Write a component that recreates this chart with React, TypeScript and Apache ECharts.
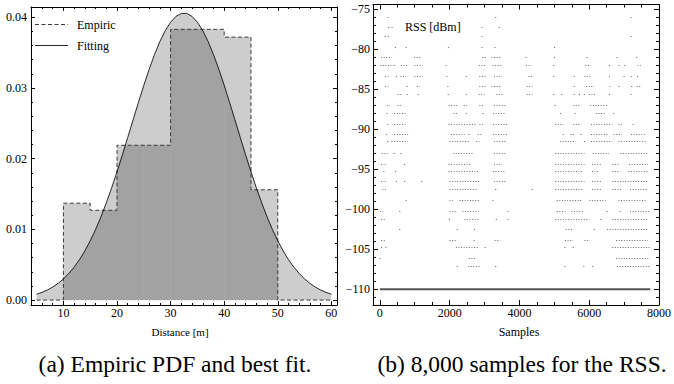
import React, { useEffect, useRef } from "react";
import * as echarts from "echarts";

// ---------- Left panel: empiric PDF (histogram) and fitted PDF ----------
const HIST_EDGES = [5, 10, 15, 20, 25, 30, 35, 40, 45, 50, 55, 60];
const HIST_PDF = [0, 0.0137, 0.0127, 0.0219, 0.0219, 0.0383, 0.0383, 0.0372, 0.0156, 0, 0];

const FIT_X = [
  5, 6, 7, 8, 9, 10, 11, 12, 13, 14, 15, 16, 17, 18, 19, 20, 21, 22, 23, 24, 25, 26, 27, 28,
  29, 30, 31, 32, 33, 34, 35, 36, 37, 38, 39, 40, 41, 42, 43, 44, 45, 46, 47, 48, 49, 50, 51,
  52, 53, 54, 55, 56, 57, 58, 59, 60,
];
const FIT_PDF = [
  0.00082, 0.00109, 0.00142, 0.00184, 0.00236, 0.00299, 0.00375, 0.00465, 0.00572, 0.00696,
  0.00837, 0.00998, 0.01177, 0.01374, 0.01587, 0.01814, 0.02053, 0.023, 0.0255, 0.02797,
  0.03038, 0.03265, 0.03474, 0.03658, 0.03812, 0.03931, 0.04013, 0.04055, 0.04055, 0.04013,
  0.03931, 0.03812, 0.03658, 0.03474, 0.03265, 0.03038, 0.02797, 0.0255, 0.023, 0.02053,
  0.01814, 0.01587, 0.01374, 0.01177, 0.00998, 0.00837, 0.00696, 0.00572, 0.00465, 0.00375,
  0.00299, 0.00236, 0.00184, 0.00142, 0.00109, 0.00082,
];

const DIST_TICKS = [10, 20, 30, 40, 50, 60];
const PDF_TICKS = [0, 0.01, 0.02, 0.03, 0.04];

// ---------- Right panel: RSS samples ----------
const SAMPLE_TICKS = [0, 2000, 4000, 6000, 8000];
const RSS_TICKS = [-110, -105, -100, -95, -90, -85, -80, -75];

const RSS_LEVELS = [
  -76.0, -77.2, -78.3, -79.7, -81.0, -82.0, -83.3, -84.6, -85.6, -87.0, -88.0, -89.3, -90.6,
  -91.5, -92.9, -94.3, -95.2, -96.5, -97.5, -98.8, -100.2, -101.2, -102.5, -103.8, -104.7,
  -106.1, -107.1,
];
// sample ranges (start, end) where readings at each level occur
const RSS_CLUSTERS: number[][][] = [
  [[240, 240], [3320, 3320], [7200, 7200]],
  [[250, 250], [350, 350], [2930, 2930], [3420, 3420]],
  [[150, 150], [243, 243], [2930, 2930], [7200, 7200]],
  [[448, 448], [755, 755], [1967, 1967], [2930, 2930], [3300, 3300], [5007, 5007]],
  [[36, 290], [980, 1175], [2930, 3040], [3200, 3460], [4187, 4187], [5007, 5007], [5930, 5930], [6800, 6800], [7360, 7360]],
  [[10, 335], [410, 410], [600, 785], [990, 1220], [1900, 1900], [2835, 3020], [3230, 3490], [4187, 4345], [4980, 4980], [5890, 6050], [6580, 6580], [6840, 6900], [7000, 7080], [7385, 7480]],
  [[150, 243], [475, 475], [590, 755], [990, 1220], [1920, 1920], [2480, 2480], [2850, 3040], [3270, 3505], [4260, 4370], [4980, 4980], [5570, 5570], [5860, 6050], [6565, 6640], [7000, 7000], [7200, 7200], [7385, 7385]],
  [[150, 243], [783, 783], [1063, 1155], [1950, 1950], [2850, 3040], [3200, 3500], [4205, 4370], [5570, 5570], [5910, 6145], [6580, 6640], [6860, 6860], [7215, 7215], [7360, 7480]],
  [[500, 615], [783, 783], [1100, 1100], [1960, 1960], [2480, 2480], [2830, 3000], [3340, 3550], [4205, 4370], [4980, 4980], [5210, 5210], [5570, 5570], [5720, 5720], [5860, 5860], [5990, 6190], [6580, 6580], [7200, 7200]],
  [[195, 290], [500, 600], [1967, 2245], [2405, 2500], [2853, 2990], [3270, 3645], [5025, 5025], [5540, 5725], [6030, 6515]],
  [[195, 260], [410, 783], [2105, 2220], [2480, 2480], [2950, 2950], [3245, 3580], [5165, 5240], [5585, 5650], [6190, 6470], [6700, 6700]],
  [[224, 224], [410, 783], [1967, 2760], [2853, 2950], [3245, 3690], [5025, 5260], [5540, 5770], [6050, 6660], [6840, 6935], [7260, 7260]],
  [[195, 195], [410, 820], [2040, 2430], [2550, 2550], [2805, 2950], [3240, 3690], [5240, 5305], [5465, 5585], [5770, 5770], [6050, 6565], [6700, 6935], [7195, 7590]],
  [[224, 224], [335, 800], [1995, 2575], [2760, 2853], [3270, 3600], [5165, 5585], [5865, 5865], [6050, 6660], [6840, 7635]],
  [[55, 224], [410, 410], [600, 600], [2105, 2665], [3270, 3600], [5025, 5865], [6100, 6565], [6890, 7680]],
  [[36, 195], [710, 710], [1967, 2620], [3270, 3505], [5025, 5865], [6080, 6330], [6660, 6840], [7140, 7680]],
  [[100, 170], [450, 450], [1967, 2853], [3240, 3600], [5025, 5815], [6080, 6285], [6660, 6890], [7120, 7680]],
  [[36, 195], [475, 475], [710, 710], [1200, 1200], [1995, 2853], [3270, 3645], [5025, 5865], [6080, 6375], [6660, 7680]],
  [[70, 195], [1995, 2810], [3320, 3320], [4370, 4370], [5025, 5815], [6080, 6375], [6660, 6935], [7170, 7680]],
  [[755, 755], [1995, 2090], [2300, 2300], [2358, 2853], [3240, 3240], [5070, 5770], [6005, 6470], [6840, 7635]],
  [[10, 100], [570, 570], [1995, 2220], [2365, 2830], [3675, 3675], [5070, 5350], [5490, 5865], [6515, 6515], [6890, 6890], [7170, 7730]],
  [[36, 170], [1995, 1995], [2420, 2853], [3340, 3340], [3675, 3675], [5025, 6005], [6330, 6330], [6660, 7660]],
  [[570, 570], [2220, 2220], [2700, 2760], [5330, 5520], [6145, 6145], [6515, 7680]],
  [[36, 170], [1995, 2220], [2700, 2700], [3290, 3450], [5305, 5540], [5865, 6005], [6770, 7680]],
  [[50, 50], [170, 170], [2180, 2830], [3020, 3020], [5305, 5305], [5540, 5540], [6660, 7730]],
  [[10, 10], [2550, 2750], [6770, 7730]],
  [[2220, 2220], [2530, 2900], [3320, 3320], [5305, 5305], [5845, 5845], [6100, 6100], [6800, 7730]],
];
const FLOOR_RSS = -110;
const FLOOR_SAMPLES = [0, 7750];

const SERIF = "Liberation Serif";

function stepList(from: number, to: number, step: number, skip: number[]) {
  const out: number[] = [];
  const n = Math.round((to - from) / step);
  for (let i = 0; i <= n; i++) {
    const v = +(from + i * step).toFixed(6);
    if (!skip.some((s) => Math.abs(s - v) < 1e-9)) out.push(v);
  }
  return out;
}

function fitAt(x: number) {
  for (let j = 0; j < FIT_X.length - 1; j++) {
    if (x >= FIT_X[j] && x <= FIT_X[j + 1]) {
      const t = (x - FIT_X[j]) / (FIT_X[j + 1] - FIT_X[j]);
      return FIT_PDF[j] + t * (FIT_PDF[j + 1] - FIT_PDF[j]);
    }
  }
  return 0;
}

function frameAxes(
  kind: "x" | "y",
  gridIndex: number,
  min: number,
  max: number,
  major: number[],
  minor: number[],
  majorLen: number,
  minorLen: number,
  formatter: (v: number) => string,
  labelMargin: number
) {
  const pos = kind === "x" ? ["bottom", "top"] : ["left", "right"];
  const axes: any[] = [];
  pos.forEach((p, pi) => {
    axes.push({
      type: "value",
      gridIndex,
      position: p,
      min,
      max,
      splitLine: { show: false },
      axisLine: { show: true, onZero: false, lineStyle: { color: "#000", width: 1 } },
      axisTick: { show: true, inside: true, length: majorLen, customValues: major, lineStyle: { color: "#000", width: 1 } },
      axisLabel: {
        show: pi === 0,
        customValues: major,
        formatter,
        color: "#000",
        fontFamily: SERIF,
        fontSize: 12,
        margin: labelMargin,
      },
    });
    axes.push({
      type: "value",
      gridIndex,
      position: p,
      min,
      max,
      splitLine: { show: false },
      axisLine: { show: false, onZero: false },
      axisTick: { show: true, inside: true, length: minorLen, customValues: minor, lineStyle: { color: "#000", width: 1 } },
      axisLabel: { show: false },
    });
  });
  return axes;
}

export default function App() {
  const ref = useRef<HTMLDivElement>(null);

  useEffect(() => {
    if (!ref.current) return;
    const chart = echarts.init(ref.current, undefined, { renderer: "svg" });

    const histLine = HIST_EDGES.slice(0, -1).map((x, i) => [x, HIST_PDF[i]]);
    histLine.push([HIST_EDGES[HIST_EDGES.length - 1], 0]);
    const fitLine = FIT_X.map((x, i) => [x, FIT_PDF[i]]);
    const bins = HIST_PDF.map((h, i) => [HIST_EDGES[i], HIST_EDGES[i + 1], h]).filter((b) => b[2] > 0);

    const clusterData: number[][] = [];
    RSS_CLUSTERS.forEach((row, li) => {
      row.forEach((seg) => clusterData.push([seg[0], seg[1], RSS_LEVELS[li]]));
    });

    const minus = (v: number) => (v < 0 ? "\u2212" + Math.abs(v) : String(v));

    const xAxes = [
      ...frameAxes("x", 0, 3.95, 61.05, DIST_TICKS, stepList(4, 60, 2, DIST_TICKS), 4, 2, (v) => String(v), 2),
      ...frameAxes("x", 1, -196, 8000, SAMPLE_TICKS, stepList(0, 8000, 500, SAMPLE_TICKS), 5, 3, (v) => String(v), 2),
    ];
    const yAxes = [
      ...frameAxes("y", 0, -0.0007, 0.04146, PDF_TICKS, stepList(0, 0.04, 0.002, PDF_TICKS), 4, 2, (v) => v.toFixed(2), 4),
      ...frameAxes("y", 1, -111.96, -74.4, RSS_TICKS, stepList(-111, -75, 1, RSS_TICKS), 5, 3, minus, 3),
    ];

    const LIGHT = "#cdcdcd";
    const DARK = "#a2a2a2";

    const option: any = {
      animation: false,
      backgroundColor: "#fff",
      textStyle: { fontFamily: SERIF },
      grid: [
        { left: 31, top: 7, width: 306, height: 298 },
        { left: 373, top: 4.5, width: 292, height: 300.5 },
      ],
      xAxis: xAxes,
      yAxis: yAxes,
      series: [
        {
          type: "line",
          xAxisIndex: 0,
          yAxisIndex: 0,
          data: histLine,
          step: "end",
          showSymbol: false,
          lineStyle: { opacity: 0, width: 0 },
          areaStyle: { color: LIGHT, opacity: 1 },
          z: 2,
          silent: true,
        },
        {
          type: "line",
          xAxisIndex: 0,
          yAxisIndex: 0,
          data: fitLine,
          showSymbol: false,
          lineStyle: { opacity: 0, width: 0 },
          areaStyle: { color: LIGHT, opacity: 1 },
          z: 2,
          silent: true,
        },
        {
          type: "custom",
          xAxisIndex: 0,
          yAxisIndex: 0,
          data: bins,
          encode: { x: [0, 1], y: 2 },
          z: 3,
          silent: true,
          renderItem: (params: any, api: any) => {
            const a = api.value(0);
            const b = api.value(1);
            const h = api.value(2);
            const xs = [a, ...FIT_X.filter((x) => x > a && x < b), b];
            const pts: number[][] = [[a, 0]];
            for (let k = 0; k < xs.length; k++) {
              const x = xs[k];
              const y = fitAt(x);
              if (k > 0) {
                const xp = xs[k - 1];
                const yp = fitAt(xp);
                if ((yp - h) * (y - h) < 0) {
                  const xc = xp + ((h - yp) / (y - yp)) * (x - xp);
                  pts.push([xc, h]);
                }
              }
              pts.push([x, Math.min(y, h)]);
            }
            pts.push([b, 0]);
            return {
              type: "polygon",
              shape: { points: pts.map((p) => api.coord(p)) },
              style: { fill: DARK, stroke: DARK, lineWidth: 0.3 },
            };
          },
        },
        {
          type: "line",
          xAxisIndex: 0,
          yAxisIndex: 0,
          data: histLine,
          step: "end",
          showSymbol: false,
          lineStyle: { color: "#3a3a3a", width: 1, type: [4, 2.5] },
          z: 4,
          silent: true,
        },
        {
          type: "line",
          xAxisIndex: 0,
          yAxisIndex: 0,
          data: fitLine,
          showSymbol: false,
          lineStyle: { color: "#111", width: 0.9 },
          z: 5,
          silent: true,
        },
        {
          type: "custom",
          xAxisIndex: 4,
          yAxisIndex: 4,
          data: clusterData,
          encode: { x: [0, 1], y: 2 },
          z: 3,
          silent: true,
          renderItem: (params: any, api: any) => {
            const p1 = api.coord([api.value(0), api.value(2)]);
            const p2 = api.coord([api.value(1), api.value(2)]);
            const y = Math.round(p1[1]) + 0.5;
            if (p2[0] - p1[0] < 1.5) {
              return {
                type: "rect",
                shape: { x: p1[0] - 0.6, y: y - 0.6, width: 1.2, height: 1.2 },
                style: { fill: "#777" },
              };
            }
            return {
              type: "line",
              shape: { x1: p1[0], y1: y, x2: p2[0], y2: y },
              style: { stroke: "#6a6a6a", lineWidth: 1, lineDash: [1, 1.6] },
            };
          },
        },
        {
          type: "line",
          xAxisIndex: 4,
          yAxisIndex: 4,
          data: FLOOR_SAMPLES.map((s) => [s, FLOOR_RSS]),
          showSymbol: false,
          lineStyle: { color: "#555", width: 2 },
          z: 4,
          silent: true,
        },
      ],
      graphic: [
        { type: "line", shape: { x1: 35, y1: 24.5, x2: 68, y2: 24.5 }, style: { stroke: "#3a3a3a", lineWidth: 1, lineDash: [4, 2.5] } },
        { type: "text", x: 77, y: 24.5, style: { text: "Empiric", fontFamily: SERIF, fontSize: 12, fill: "#000", align: "left", verticalAlign: "middle" } },
        { type: "line", shape: { x1: 35, y1: 45.5, x2: 68, y2: 45.5 }, style: { stroke: "#111", lineWidth: 0.9 } },
        { type: "text", x: 77, y: 45.5, style: { text: "Fitting", fontFamily: SERIF, fontSize: 12, fill: "#000", align: "left", verticalAlign: "middle" } },
        { type: "text", x: 180, y: 332, style: { text: "Distance [m]", fontFamily: SERIF, fontSize: 11, fill: "#000", align: "center", verticalAlign: "middle" } },
        { type: "text", x: 405, y: 26.5, style: { text: "RSS [dBm]", fontFamily: SERIF, fontSize: 12, fill: "#000", align: "left", verticalAlign: "middle" } },
        { type: "text", x: 519, y: 332, style: { text: "Samples", fontFamily: SERIF, fontSize: 12, fill: "#000", align: "center", verticalAlign: "middle" } },
        { type: "text", x: 175, y: 364, style: { text: "(a) Empiric PDF and best fit.", fontFamily: SERIF, fontSize: 23.5, fill: "#000", align: "center", verticalAlign: "middle" } },
        { type: "text", x: 522, y: 364, style: { text: "(b) 8,000 samples for the RSS.", fontFamily: SERIF, fontSize: 23.5, fill: "#000", align: "center", verticalAlign: "middle" } },
      ],
    };

    chart.setOption(option);
    return () => chart.dispose();
  }, []);

  return (
    <div
      ref={ref}
      style={{ position: "absolute", left: 0, top: 0, width: 674, height: 384, background: "#fff" }}
    />
  );
}
